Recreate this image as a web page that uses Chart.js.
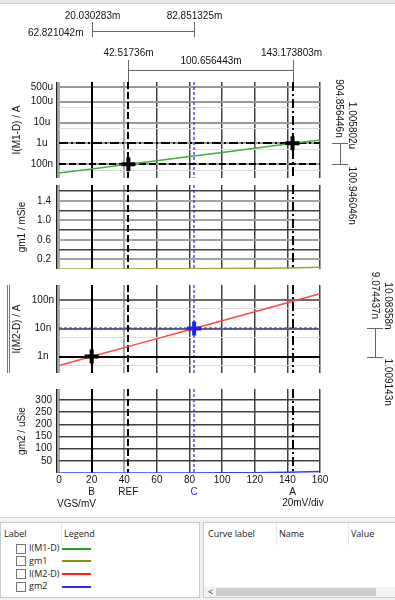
<!DOCTYPE html>
<html><head><meta charset="utf-8">
<script src="https://cdn.jsdelivr.net/npm/chart.js@4.4.1/dist/chart.umd.min.js"></script>
<style>
html,body{margin:0;padding:0;background:#fff;width:395px;height:600px;overflow:hidden;}
canvas{position:absolute;left:0;}
#topbar{position:absolute;left:0;top:0;width:395px;height:3px;background:#e9e9e9;border-bottom:1px solid #d2d2d2;}
#bottom{position:absolute;left:0;top:517px;width:395px;height:83px;background:#f0f0f0;border-top:1px solid #d6d6d6;font-family:'Open Sans',sans-serif;font-size:9px;color:#222;}
.box{position:absolute;top:4px;height:76px;background:#fff;border:1px solid #cacaca;box-sizing:border-box;overflow:hidden;}
.t{position:absolute;white-space:nowrap;line-height:12px;}
.sep{position:absolute;top:0;width:1px;height:22px;background:#e6e6e6;}
.cb{position:absolute;left:15px;width:10px;height:10px;border:1px solid #777;background:#fff;box-sizing:border-box;}
.ln{position:absolute;left:61px;width:29px;height:2px;}
</style></head>
<body>
<div id="topbar"></div>
<canvas id="c1" width="395" height="232" style="top:0px"></canvas>
<canvas id="c2" width="395" height="113" style="top:170px"></canvas>
<canvas id="c3" width="395" height="150" style="top:262px"></canvas>
<canvas id="c4" width="395" height="139" style="top:376px"></canvas>
<div id="bottom">
  <div class="box" id="lbox" style="left:0;width:200px;">
    <span class="t" style="left:3px;top:5px">Label</span>
    <div class="sep" style="left:60px"></div>
    <span class="t" style="left:63px;top:5px">Legend</span>
  </div>
  <div class="box" style="left:203px;width:194px;">
    <span class="t" style="left:4px;top:5px">Curve label</span>
    <div class="sep" style="left:72px"></div>
    <span class="t" style="left:75px;top:5px">Name</span>
    <div class="sep" style="left:144px"></div>
    <span class="t" style="left:147px;top:5px">Value</span>
    <div style="position:absolute;left:0;top:64px;width:194px;height:10px;background:#f2f2f2;"></div>
    <span class="t" style="left:4px;top:63px;font-size:9px;">&lt;</span>
    <div style="position:absolute;left:12px;top:65px;width:160px;height:8px;background:#cdcdcd;"></div>
  </div>
</div>
<script>
// ---------- data ----------
const vgs  = [0, 20, 40, 60, 80, 100, 120, 140, 160];
const iM1  = [3.78e-8, 5.97e-8, 9.44e-8, 1.49e-7, 2.36e-7, 3.72e-7, 5.89e-7, 9.30e-7, 1.47e-6];
const gm1  = [0.00086, 0.00137, 0.00216, 0.00341, 0.0054, 0.0085, 0.0135, 0.0213, 0.0336];
const iM2  = [4.84e-10, 1.01e-9, 2.10e-9, 4.37e-9, 9.09e-9, 1.89e-8, 3.94e-8, 8.20e-8, 1.71e-7];
const gm2  = [0.018, 0.037, 0.077, 0.16, 0.333, 0.69, 1.44, 3.0, 6.27];

const seriesNames  = ['I(M1-D)', 'gm1', 'I(M2-D)', 'gm2'];
const seriesColors = ['#3fae3f', '#a3a235', '#ff4545', '#3b3bff'];
const legendColors = ['#22a022', '#8c8c10', '#ff2020', '#2a2aff'];

const xTicks = [0, 20, 40, 60, 80, 100, 120, 140, 160];
const i1Ticks = [5e-4, 1e-4, 1e-5, 1e-6, 1e-7];
const i1TickLabels = ['500u', '100u', '10u', '1u', '100n'];
const i1Minor = [5e-5, 5e-6, 5e-7, 5e-8];
const gm1Ticks = [0.2, 0.4, 0.6, 0.8, 1.0, 1.2, 1.4, 1.6];
const gm1TickLabels = ['0.2', '', '0.6', '', '1.0', '', '1.4', ''];
const i2Ticks = [1e-7, 1e-8, 1e-9];
const i2TickLabels = ['100n', '10n', '1n'];
const i2Minor = [5e-8, 5e-9, 5e-10];
const gm2Ticks = [50, 100, 150, 200, 250, 300];
const gm2TickLabels = ['50', '100', '150', '200', '250', '300'];

const cursorNames = ['B', 'REF', 'C', 'A'];
const cursorX = [20.030283, 42.51736, 82.851325, 143.173803];
const cursorXLabels = ['20.030283m', '42.51736m', '82.851325m', '143.173803m'];
const deltaLabels = ['62.821042m', '100.656443m'];       // B->C, REF->A
const m1Levels = [100.946046e-9, 1.005802e-6];           // REF, A
const m1LevelLabels = ['100.946046n', '1.005802u'];
const m1Delta = '904.856446n';
const m2Levels = [1.009143e-9, 10.08358e-9];             // B, C
const m2LevelLabels = ['1.009143n', '10.08358n'];
const m2Delta = '9.074437n';

// ---------- styles ----------
const F = "'Liberation Sans', Arial, sans-serif";
Chart.defaults.font.family = F;
Chart.defaults.font.size = 10;
Chart.defaults.color = '#111';
const BLUE = '#1f1fff';
const DARK = '#404040';
const curStyle = {
  B:   {color: '#000', width: 2,   dash: []},
  REF: {color: '#000', width: 2,   dash: [7, 3]},
  C:   {color: BLUE,   width: 1.2, dash: [3, 2]},
  A:   {color: '#000', width: 2,   dash: [9, 3, 2, 3]}
};

const near = (a, b) => Math.abs(a - b) <= Math.abs(b) * 1e-6 + 1e-14;
const inList = (v, list) => list.some(t => near(v, t));
const labelOf = (v, vals, labs) => { const i = vals.findIndex(t => near(v, t)); return i >= 0 ? labs[i] : ''; };

function rotText(ctx, txt, x, y, align) {
  ctx.save(); ctx.translate(x, y); ctx.rotate(Math.PI / 2);
  ctx.textAlign = align; ctx.textBaseline = 'middle'; ctx.fillText(txt, 0, 0); ctx.restore();
}
function seg(ctx, x1, y1, x2, y2) { ctx.beginPath(); ctx.moveTo(x1, y1); ctx.lineTo(x2, y2); ctx.stroke(); }

function cursorPlugin(levels) {
  return {
    id: 'cursors',
    beforeDatasetsDraw(chart) {
      const {ctx, chartArea: a, scales: {x, y}} = chart;
      ctx.save();
      ctx.strokeStyle = '#222'; ctx.lineWidth = 1.5; ctx.setLineDash([]);
      seg(ctx, a.left - 2.25, a.top, a.left - 2.25, a.bottom);
      ctx.beginPath(); ctx.rect(a.left, a.top, a.right - a.left, a.bottom - a.top); ctx.clip();
      cursorX.forEach((v, i) => {
        const s = curStyle[cursorNames[i]];
        const px = Math.round(x.getPixelForValue(v));
        ctx.strokeStyle = s.color; ctx.lineWidth = s.width; ctx.setLineDash(s.dash);
        seg(ctx, px, a.top, px, a.bottom);
      });
      levels.forEach(l => {
        const s = curStyle[l.cursor];
        const py = Math.round(y.getPixelForValue(l.value));
        ctx.strokeStyle = s.color; ctx.lineWidth = s.width; ctx.setLineDash(s.dash);
        seg(ctx, a.left, py, a.right, py);
      });
      ctx.restore();
    }
  };
}

const xGridColor = c => (c.tick && (near(c.tick.value, 0) || near(c.tick.value, 40))) ? '#a8a8a8' : DARK;
const xGridWidth = c => (c.tick && (near(c.tick.value, 0) || near(c.tick.value, 40))) ? 2 : 1.5;

function makeChart(id, o) {
  return new Chart(document.getElementById(id), {
    type: 'line',
    data: {datasets: o.datasets},
    options: {
      responsive: false, animation: false, devicePixelRatio: 1,
      layout: {padding: {left: 0, right: 75, top: o.padTop, bottom: o.padBottom}},
      plugins: {legend: {display: false}, tooltip: {enabled: false}},
      elements: {line: {tension: 0}},
      scales: {
        x: {
          type: 'linear', min: 0, max: 160,
          afterBuildTicks: s => { s.ticks = xTicks.map(v => ({value: v})); },
          afterFit: s => { s.height = o.showX ? 42 : 0; },
          border: {display: false},
          grid: {drawTicks: false, color: xGridColor, lineWidth: xGridWidth},
          ticks: {display: !!o.showX, padding: 1, autoSkip: false, maxRotation: 0, color: '#111', callback: v => String(v)}
        },
        y: Object.assign({
          afterFit: s => { s.width = 59; },
          border: {display: false},
          title: {display: true, text: o.title, color: '#111', font: {size: 10}, padding: {top: o.titlePad, bottom: 0}}
        }, o.y)
      }
    },
    plugins: o.plugins
  });
}

const pts = arr => vgs.map((x, i) => ({x, y: arr[i]}));
const lineDs = (arr, color) => ({data: pts(arr), borderColor: color, borderWidth: 1.5, pointRadius: 0, fill: false});

// ---------- panel 1 : I(M1-D) ----------
makeChart('c1', {
  padTop: 82, padBottom: 54, title: 'I(M1-D) / A', titlePad: 11,
  datasets: [
    {data: [{x: cursorX[1], y: m1Levels[0]}, {x: cursorX[3], y: m1Levels[1]}], showLine: false,
     pointStyle: 'cross', pointRadius: 7, pointBorderWidth: 4, pointBorderColor: '#000', pointBackgroundColor: '#000'},
    lineDs(iM1, seriesColors[0])
  ],
  y: {
    type: 'logarithmic', min: 2.2e-8, max: 8.8e-4,
    afterBuildTicks: s => { s.ticks = i1Ticks.concat(i1Minor).sort((a, b) => a - b).map(v => ({value: v})); },
    grid: {drawTicks: false,
      color: c => c.tick && inList(c.tick.value, i1Ticks) ? '#9a9a9a' : '#dddddd',
      lineWidth: c => c.tick && inList(c.tick.value, i1Ticks) ? 2 : 1},
    ticks: {autoSkip: false, crossAlign: 'center', padding: 6, color: '#111', callback: v => labelOf(v, i1Ticks, i1TickLabels)}
  },
  plugins: [cursorPlugin([{value: m1Levels[0], cursor: 'REF'}, {value: m1Levels[1], cursor: 'A'}]), {
    id: 'ann1',
    afterDraw(chart) {
      const {ctx, scales: {x, y}} = chart;
      ctx.save();
      ctx.font = '10px ' + F; ctx.fillStyle = '#111'; ctx.strokeStyle = '#666'; ctx.lineWidth = 1; ctx.setLineDash([]);
      const px = cursorX.map(v => Math.round(x.getPixelForValue(v)) + 0.5);
      const [xB, xR, xC, xA] = px;
      seg(ctx, xB, 31.5, xC, 31.5); seg(ctx, xB, 22, xB, 37); seg(ctx, xC, 22, xC, 37);
      ctx.textBaseline = 'middle'; ctx.textAlign = 'center';
      ctx.fillText(cursorXLabels[0], xB, 16); ctx.fillText(cursorXLabels[2], xC, 16);
      ctx.textAlign = 'right'; ctx.fillText(deltaLabels[0], xB - 9, 33);
      seg(ctx, xR, 70.5, xA, 70.5); seg(ctx, xR, 60, xR, 82); seg(ctx, xA, 60, xA, 82);
      ctx.textAlign = 'center';
      ctx.fillText(cursorXLabels[1], xR, 53); ctx.fillText(cursorXLabels[3], xA - 2, 53);
      ctx.fillText(deltaLabels[1], (xR + xA) / 2, 61);
      const yA = Math.round(y.getPixelForValue(m1Levels[1])) + 0.5;
      const yR = Math.round(y.getPixelForValue(m1Levels[0])) + 0.5;
      seg(ctx, 340.5, yA, 340.5, yR); seg(ctx, 332, yA, 348, yA); seg(ctx, 332, yR, 348, yR);
      rotText(ctx, m1Delta, 339, yA - 35, 'center');
      rotText(ctx, m1LevelLabels[1], 352, yA - 18, 'center');
      rotText(ctx, m1LevelLabels[0], 352, yR + 2, 'left');
      ctx.restore();
    }
  }]
});

// ---------- panel 2 : gm1 ----------
makeChart('c2', {
  padTop: 15, padBottom: 10, title: 'gm1 / mSie', titlePad: 16,
  datasets: [lineDs(gm1, seriesColors[1])],
  y: {
    type: 'linear', min: 0, max: 1.725,
    afterBuildTicks: s => { s.ticks = gm1Ticks.map(v => ({value: v})); },
    grid: {drawTicks: false,
      color: c => c.tick && labelOf(c.tick.value, gm1Ticks, gm1TickLabels) ? '#a3a3a3' : DARK,
      lineWidth: c => c.tick && labelOf(c.tick.value, gm1Ticks, gm1TickLabels) ? 2 : 1.5},
    ticks: {autoSkip: false, padding: 8, color: '#111', callback: v => labelOf(v, gm1Ticks, gm1TickLabels)}
  },
  plugins: [cursorPlugin([])]
});

// ---------- panel 3 : I(M2-D) ----------
makeChart('c3', {
  padTop: 23, padBottom: 39, title: 'I(M2-D) / A', titlePad: 11,
  datasets: [
    {data: [{x: cursorX[0], y: m2Levels[0]}, {x: cursorX[2], y: m2Levels[1]}], showLine: false,
     pointStyle: 'cross', pointRadius: 7, pointBorderWidth: 4, pointBorderColor: ['#000', BLUE], pointBackgroundColor: ['#000', BLUE]},
    lineDs(iM2, seriesColors[2])
  ],
  y: {
    type: 'logarithmic', min: 2.64e-10, max: 3.5e-7,
    afterBuildTicks: s => { s.ticks = i2Ticks.concat(i2Minor).sort((a, b) => a - b).map(v => ({value: v})); },
    grid: {drawTicks: false,
      color: c => c.tick && inList(c.tick.value, i2Ticks) ? '#6a6a6a' : '#dddddd',
      lineWidth: c => c.tick && inList(c.tick.value, i2Ticks) ? 2 : 1},
    ticks: {autoSkip: false, crossAlign: 'center', padding: 5, color: '#111', callback: v => labelOf(v, i2Ticks, i2TickLabels)}
  },
  plugins: [cursorPlugin([{value: m2Levels[0], cursor: 'B'}, {value: m2Levels[1], cursor: 'C'}]), {
    id: 'ann3',
    afterDraw(chart) {
      const {ctx, chartArea: a, scales: {y}} = chart;
      ctx.save();
      ctx.font = '10px ' + F; ctx.fillStyle = '#111'; ctx.strokeStyle = '#777'; ctx.lineWidth = 1; ctx.setLineDash([]);
      seg(ctx, 7.5, a.top, 7.5, a.bottom); seg(ctx, 9.5, a.top, 9.5, a.bottom);
      ctx.strokeStyle = '#666';
      const yB = Math.round(y.getPixelForValue(m2Levels[0])) + 0.5;
      const yC = Math.round(y.getPixelForValue(m2Levels[1])) + 0.5;
      seg(ctx, 375.5, yC, 375.5, yB); seg(ctx, 367, yC, 383, yC); seg(ctx, 367, yB, 383, yB);
      rotText(ctx, m2Delta, 375, yC - 33, 'center');
      rotText(ctx, m2LevelLabels[1], 388, yC - 22.5, 'center');
      rotText(ctx, m2LevelLabels[0], 388, yB + 1, 'left');
      ctx.restore();
    }
  }]
});

// ---------- panel 4 : gm2 ----------
makeChart('c4', {
  padTop: 10, padBottom: 0, title: 'gm2 / uSie', titlePad: 16, showX: true,
  datasets: [lineDs(gm2, seriesColors[3])],
  y: {
    type: 'linear', min: 0, max: 345,
    afterBuildTicks: s => { s.ticks = gm2Ticks.map(v => ({value: v})); },
    grid: {drawTicks: false, color: DARK, lineWidth: 1.5},
    ticks: {autoSkip: false, padding: 7, color: '#111', callback: v => labelOf(v, gm2Ticks, gm2TickLabels)}
  },
  plugins: [cursorPlugin([]), {
    id: 'ann4',
    afterDraw(chart) {
      const {ctx, chartArea: a, scales: {x}} = chart;
      ctx.save();
      ctx.font = '10px ' + F; ctx.textBaseline = 'middle'; ctx.textAlign = 'center';
      cursorX.forEach((v, i) => {
        ctx.fillStyle = cursorNames[i] === 'C' ? BLUE : '#111';
        ctx.fillText(cursorNames[i], x.getPixelForValue(v), a.bottom + 19);
      });
      ctx.fillStyle = '#111';
      ctx.textAlign = 'left'; ctx.fillText('VGS/mV', 57, a.bottom + 31);
      ctx.textAlign = 'center'; ctx.fillText('20mV/div', 303, a.bottom + 30);
      ctx.restore();
    }
  }]
});

// ---------- legend table ----------
const lbox = document.getElementById('lbox');
const rowY = [25.5, 38.3, 51.1, 63.9];
seriesNames.forEach((n, i) => {
  const cb = document.createElement('div'); cb.className = 'cb'; cb.style.top = (rowY[i] - 5) + 'px'; lbox.appendChild(cb);
  const t = document.createElement('span'); t.className = 't'; t.textContent = n;
  t.style.left = '28px'; t.style.top = (rowY[i] - 6.5) + 'px'; lbox.appendChild(t);
  const ln = document.createElement('div'); ln.className = 'ln'; ln.style.background = legendColors[i];
  ln.style.top = (rowY[i] - 1) + 'px'; lbox.appendChild(ln);
});
</script>
</body></html>
